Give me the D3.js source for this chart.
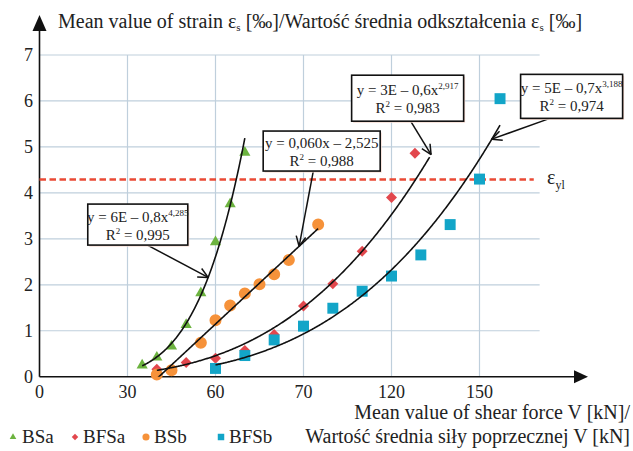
<!DOCTYPE html>
<html>
<head>
<meta charset="utf-8">
<script src="https://cdn.jsdelivr.net/npm/d3@7"></script>
<style>
  body { margin: 0; background: #fff; }
  svg text { font-family: 'Liberation Serif', 'DejaVu Serif', 'Times New Roman', serif; }
</style>
</head>
<body>
<div id="chart"></div>
<script>
// ---- data ----
const seriesNames = ['BSa', 'BFSa', 'BSb', 'BFSb'];

const bsaForce = [35, 40, 45, 50, 55, 60, 65, 70];
const bsaStrain = [0.25, 0.42, 0.66, 1.13, 1.82, 2.93, 3.76, 4.88];

const bfsaForce = [40, 50, 60, 70, 80, 90, 100, 110, 120, 128];
const bfsaStrain = [0.16, 0.31, 0.40, 0.57, 0.92, 1.54, 2.02, 2.73, 3.90, 4.86];

const bsbForce = [40, 45, 55, 60, 65, 70, 75, 80, 85, 95];
const bsbStrain = [0.05, 0.14, 0.74, 1.23, 1.55, 1.81, 2.01, 2.23, 2.54, 3.31];

const bfsbForce = [60, 70, 80, 90, 100, 110, 120, 130, 140, 150, 157];
const bfsbStrain = [0.18, 0.46, 0.80, 1.10, 1.49, 1.86, 2.19, 2.65, 3.31, 4.30, 6.05];

// x tick labels as printed (the "70" stands where 90 should be)
const xTickValues = [0, 30, 60, 90, 120, 150];
const xTickLabels = ['0', '30', '60', '70', '120', '150'];
const yTickValues = [0, 1, 2, 3, 4, 5, 6, 7];

const yieldStrain = 4.29;

// trendline type and labels, in series order
const trendTypes = ['power', 'power', 'linear', 'power'];
const trendEquations = ['y = 6E – 0,8x', 'y = 3E – 0,6x', 'y = 0,060x – 2,525', 'y = 5E – 0,7x'];
const trendExponents = ['4,285', '2,917', '', '3,188'];
const trendR2 = ['0,995', '0,983', '0,988', '0,974'];
const trendExtend = [0, 5, 0, 0];
// x value where each annotation arrow meets its curve
const arrowTipForce = [57.5, 133.5, 88.5, 154.2];

const FONT = "'Liberation Serif', 'DejaVu Serif', 'Times New Roman', serif";

class StrainChart {

    constructor(_config) {
        this.config = {
            parentElement: _config.parentElement,
            containerWidth: _config.containerWidth || 633,
            containerHeight: _config.containerHeight || 451
        };
        this.initVis();
    }

    initVis() {
        let vis = this;

        vis.series = [
            { name: 'BSa', x: bsaForce, y: bsaStrain, color: '#6cb33f', shape: 'triangle' },
            { name: 'BFSa', x: bfsaForce, y: bfsaStrain, color: '#e2474d', shape: 'diamond' },
            { name: 'BSb', x: bsbForce, y: bsbStrain, color: '#f6923a', shape: 'circle' },
            { name: 'BFSb', x: bfsbForce, y: bfsbStrain, color: '#12a5c8', shape: 'square' }
        ];

        vis.xScale = d3.scaleLinear().domain([0, 150]).range([39.5, 479.5]);
        vis.yScale = d3.scaleLinear().domain([0, 7]).range([376.7, 55]);

        vis.svg = d3.select(vis.config.parentElement).append('svg')
            .attr('width', vis.config.containerWidth)
            .attr('height', vis.config.containerHeight)
            .attr('font-family', FONT)
            .style('display', 'block');

        vis.svg.append('defs').append('clipPath').attr('id', 'plot-clip')
            .append('rect')
            .attr('x', vis.xScale(0))
            .attr('y', vis.yScale(7.6))
            .attr('width', vis.xScale(200) - vis.xScale(0))
            .attr('height', vis.yScale(0) - vis.yScale(7.6));

        vis.drawGrid();
        vis.drawAxes();
        vis.renderVis();
        vis.drawLegend();
    }

    drawGrid() {
        let vis = this;
        const gridEnd = 170.5;

        vis.svg.append('g').selectAll('line')
            .data(yTickValues.filter(d => d > 0))
            .join('line')
            .attr('x1', vis.xScale(0))
            .attr('x2', vis.xScale(gridEnd))
            .attr('y1', d => vis.yScale(d))
            .attr('y2', d => vis.yScale(d))
            .attr('stroke', '#bfcfdc')
            .attr('stroke-width', 1.2);

        vis.svg.append('g').selectAll('line')
            .data(xTickValues.filter(d => d > 0))
            .join('line')
            .attr('x1', d => vis.xScale(d))
            .attr('x2', d => vis.xScale(d))
            .attr('y1', vis.yScale(7))
            .attr('y2', vis.yScale(0))
            .attr('stroke', '#bfcfdc')
            .attr('stroke-width', 1.2);
    }

    drawAxes() {
        let vis = this;
        const x0 = vis.xScale(0), y0 = vis.yScale(0);

        // x axis with arrow
        vis.svg.append('line')
            .attr('x1', x0).attr('x2', 577)
            .attr('y1', y0).attr('y2', y0)
            .attr('stroke', '#111').attr('stroke-width', 1.6);
        vis.svg.append('path')
            .attr('d', `M${588},${y0} L${574},${y0 - 6.5} L${574},${y0 + 6.5} Z`)
            .attr('fill', '#111');

        // y axis with arrow
        vis.svg.append('line')
            .attr('x1', x0).attr('x2', x0)
            .attr('y1', y0).attr('y2', 28)
            .attr('stroke', '#111').attr('stroke-width', 1.6);
        vis.svg.append('path')
            .attr('d', `M${x0},${15} L${x0 - 7},${31} L${x0 + 7},${31} Z`)
            .attr('fill', '#111');

        // tick labels
        vis.svg.append('g').selectAll('text')
            .data(xTickValues)
            .join('text')
            .attr('x', d => vis.xScale(d))
            .attr('y', 398)
            .attr('text-anchor', 'middle')
            .attr('font-size', 18)
            .attr('fill', '#222')
            .text((d, i) => xTickLabels[i]);

        vis.svg.append('g').selectAll('text')
            .data(yTickValues)
            .join('text')
            .attr('x', 33)
            .attr('y', d => vis.yScale(d) + 6)
            .attr('text-anchor', 'end')
            .attr('font-size', 18)
            .attr('fill', '#222')
            .text(d => d);

        // y title
        const yt = vis.svg.append('text')
            .attr('x', 58).attr('y', 28)
            .attr('font-size', 20)
            .attr('fill', '#222');
        yt.append('tspan').text('Mean value of strain ε');
        yt.append('tspan').attr('font-size', 11).attr('dy', 3).text('s');
        yt.append('tspan').attr('dy', -3).text(' [‰]/Wartość średnia odkształcenia ε');
        yt.append('tspan').attr('font-size', 11).attr('dy', 3).text('s');
        yt.append('tspan').attr('dy', -3).text(' [‰]');

        // x title, right aligned
        vis.svg.append('text')
            .attr('x', 630).attr('y', 419)
            .attr('text-anchor', 'end')
            .attr('font-size', 20)
            .attr('fill', '#222')
            .text('Mean value of shear force V [kN]/');
        vis.svg.append('text')
            .attr('x', 630).attr('y', 443)
            .attr('text-anchor', 'end')
            .attr('font-size', 20)
            .attr('fill', '#222')
            .text('Wartość średnia siły poprzecznej V [kN]');
    }

    fit(type, xs, ys) {
        const tx = type === 'power' ? xs.map(Math.log) : xs;
        const ty = type === 'power' ? ys.map(Math.log) : ys;
        const mx = d3.mean(tx), my = d3.mean(ty);
        const b = d3.sum(tx, (v, i) => (v - mx) * (ty[i] - my)) / d3.sum(tx, v => (v - mx) * (v - mx));
        const c = my - b * mx;
        if (type === 'power') {
            const a = Math.exp(c);
            return v => a * Math.pow(v, b);
        }
        return v => c + b * v;
    }

    symbolFor(shape, size) {
        if (shape === 'triangle') return d3.symbol().type(d3.symbolTriangle).size(size * 0.45)();
        if (shape === 'diamond') return d3.symbol().type(d3.symbolSquare).size(size * 0.5)();
        if (shape === 'circle') return d3.symbol().type(d3.symbolCircle).size(size * 0.95)();
        return d3.symbol().type(d3.symbolSquare).size(size)();
    }

    renderVis() {
        let vis = this;

        // yield strain line
        vis.svg.append('line')
            .attr('x1', vis.xScale(0))
            .attr('x2', vis.xScale(168.5))
            .attr('y1', vis.yScale(yieldStrain))
            .attr('y2', vis.yScale(yieldStrain))
            .attr('stroke', '#ea4a35')
            .attr('stroke-width', 2.5)
            .attr('stroke-dasharray', '6.5,3.5');

        const ey = vis.svg.append('text')
            .attr('x', 547).attr('y', vis.yScale(yieldStrain) + 4)
            .attr('font-size', 20)
            .attr('fill', '#222');
        ey.append('tspan').text('ε');
        ey.append('tspan').attr('font-size', 12).attr('dy', 5).text('yl');

        // markers
        vis.series.forEach(s => {
            const rot = s.shape === 'diamond' ? 45 : 0;
            vis.svg.append('g').selectAll('path')
                .data(s.x.map((v, i) => ({ x: v, y: s.y[i] })))
                .join('path')
                .attr('d', vis.symbolFor(s.shape, 120))
                .attr('transform', d => `translate(${vis.xScale(d.x)},${vis.yScale(d.y)}) rotate(${rot})`)
                .attr('fill', s.color);
        });

        // trendlines
        const line = d3.line().x(d => vis.xScale(d[0])).y(d => vis.yScale(d[1]));
        vis.trends = vis.series.map((s, i) => {
            const f = vis.fit(trendTypes[i], s.x, s.y);
            const lo = d3.min(s.x), hi = d3.max(s.x) + trendExtend[i];
            const pts = d3.range(lo, hi, 0.25).concat([hi]).map(v => [v, f(v)]);
            vis.svg.append('path')
                .attr('d', line(pts))
                .attr('clip-path', 'url(#plot-clip)')
                .attr('fill', 'none')
                .attr('stroke', '#111')
                .attr('stroke-width', 1.6);
            return f;
        });

        vis.drawAnnotations();
    }

    drawAnnotations() {
        let vis = this;
        // box centre (data units), box size and arrow start offset (px)
        const boxes = [
            { cx: 33.5, cy: 3.31, w: 100, h: 41, dx: 9.6 },
            { cx: 125.5, cy: 6.06, w: 112, h: 46, dx: 3 },
            { cx: 96.2, cy: 4.91, w: 117, h: 40, dx: -8.4 },
            { cx: 181.4, cy: 6.10, w: 102, h: 44, dx: -21.7 }
        ];

        boxes.forEach((b, i) => {
            const cx = vis.xScale(b.cx), cy = vis.yScale(b.cy);
            const tipX = vis.xScale(arrowTipForce[i]);
            const tipY = vis.yScale(vis.trends[i](arrowTipForce[i]));
            const sx = cx + b.dx, sy = cy + b.h / 2;

            vis.svg.append('line')
                .attr('x1', sx).attr('y1', sy)
                .attr('x2', tipX).attr('y2', tipY)
                .attr('stroke', '#111').attr('stroke-width', 1.5);

            const ang = Math.atan2(tipY - sy, tipX - sx);
            [-0.45, 0.45].forEach(o => {
                vis.svg.append('line')
                    .attr('x1', tipX).attr('y1', tipY)
                    .attr('x2', tipX - 11 * Math.cos(ang + o))
                    .attr('y2', tipY - 11 * Math.sin(ang + o))
                    .attr('stroke', '#111').attr('stroke-width', 1.5);
            });

            vis.svg.append('rect')
                .attr('x', cx - b.w / 2 + 1.5).attr('y', cy - b.h / 2 + 1.5)
                .attr('width', b.w).attr('height', b.h)
                .attr('fill', '#f6d9cf');
            vis.svg.append('rect')
                .attr('x', cx - b.w / 2).attr('y', cy - b.h / 2)
                .attr('width', b.w).attr('height', b.h)
                .attr('fill', '#fff')
                .attr('stroke', '#111').attr('stroke-width', 1.6);

            const t1 = vis.svg.append('text')
                .attr('x', cx).attr('y', cy - 3)
                .attr('text-anchor', 'middle')
                .attr('font-size', 15)
                .attr('fill', '#222');
            t1.append('tspan').text(trendEquations[i]);
            if (trendExponents[i]) {
                t1.append('tspan').attr('font-size', 9).attr('dy', -6).text(trendExponents[i]);
            }

            const t2 = vis.svg.append('text')
                .attr('x', cx).attr('y', cy + 15)
                .attr('text-anchor', 'middle')
                .attr('font-size', 15)
                .attr('fill', '#222');
            t2.append('tspan').text('R');
            t2.append('tspan').attr('font-size', 9).attr('dy', -6).text('2');
            t2.append('tspan').attr('dy', 6).text(' = ' + trendR2[i]);
        });
    }

    drawLegend() {
        let vis = this;
        const markerX = [13, 75, 146, 221];
        const labelX = [22, 83, 154, 229];
        const ly = 443;

        vis.series.forEach((s, i) => {
            const rot = s.shape === 'diamond' ? 45 : 0;
            vis.svg.append('path')
                .attr('d', vis.symbolFor(s.shape, 42))
                .attr('transform', `translate(${markerX[i]},${ly - 6}) rotate(${rot})`)
                .attr('fill', s.color);
            vis.svg.append('text')
                .attr('x', labelX[i]).attr('y', ly)
                .attr('font-size', 19)
                .attr('fill', '#222')
                .text(seriesNames[i]);
        });
    }
}

new StrainChart({ parentElement: '#chart' });
</script>
</body>
</html>
